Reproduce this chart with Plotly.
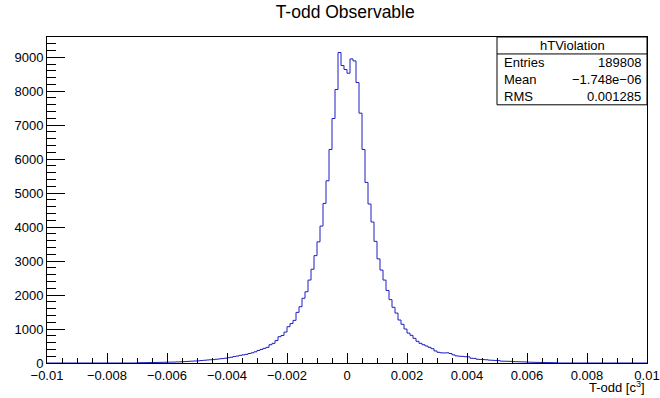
import numpy as np
import plotly.graph_objects as go

# ---- data ----
x_min, x_max, n_bins = -0.01, 0.01, 200
first_nonzero_bin = 30   # bin index (0-based) of x = -0.007
counts_nonzero = [
    8, 10, 10, 12, 14, 15, 16, 18, 20, 22, 24, 26, 28, 32, 35,
    40, 45, 50, 55, 60,
    65, 72, 80, 88, 95,
    100, 110, 120, 130, 140,
    155, 170, 190, 205, 225, 240, 255, 280, 300, 330,
    370, 400, 432, 460, 538, 579, 660, 774, 810, 910,
    1068, 1160, 1255, 1490, 1656, 1905, 2097, 2441, 2760, 3160,
    3565, 4030, 4697, 5362, 6285, 7196, 8050, 9138, 8755, 8638,
    8529, 8950, 8891, 8255, 7353, 6285, 5315, 4680, 4150, 3580,
    3065, 2735, 2441, 2135, 1865, 1640, 1470, 1265, 1140, 1000,
    880, 815, 726, 638, 579, 538, 500, 462, 421, 355, 315,
    300, 295, 300, 280, 240, 210, 200, 195, 185, 180,
    140, 135, 110, 105, 100, 95, 85, 80, 75, 70,
    55, 52, 50, 48, 40, 38, 35, 33, 30, 25,
    22, 20, 18, 16, 14, 13, 12, 10, 9,
]
x_tick_vals = [-0.01, -0.008, -0.006, -0.004, -0.002, 0, 0.002, 0.004, 0.006, 0.008, 0.01]
x_tick_text = ["\u22120.01", "\u22120.008", "\u22120.006", "\u22120.004", "\u22120.002", "0",
               "0.002", "0.004", "0.006", "0.008", "0.01"]
y_tick_vals = [0, 1000, 2000, 3000, 4000, 5000, 6000, 7000, 8000, 9000]
stats_title = "hTViolation"
stats_labels = ["Entries", "Mean", "RMS"]
stats_values = ["189808", "\u22121.748e\u221206", "0.001285"]

# ---- build histogram ----
counts = np.zeros(n_bins)
counts[first_nonzero_bin:first_nonzero_bin + len(counts_nonzero)] = counts_nonzero
edges = np.linspace(x_min, x_max, n_bins + 1)
xs = np.append(edges[:-1], edges[-1])
ys = np.append(counts, counts[-1])
y_top = 1.05 * counts.max()

FONT = "Liberation Sans, Arial, Helvetica, sans-serif"
FS = 13
fig = go.Figure()
fig.add_trace(go.Scatter(x=xs, y=ys, mode="lines", line=dict(color="#1f1fc4", width=1, shape="hv"),
                         hoverinfo="skip", showlegend=False))

fig.update_layout(
    width=660, height=398, autosize=False,
    margin=dict(l=47, r=13, t=37, b=35, autoexpand=False),
    paper_bgcolor="white", plot_bgcolor="white",
    font=dict(family=FONT, size=FS, color="black"),
    title=dict(text="T-odd Observable", x=0.523, xanchor="center", y=0.97, yanchor="middle",
               yref="container", font=dict(size=17.5, family=FONT, color="black")),
    showlegend=False,
)
fig.update_xaxes(range=[x_min, x_max], showgrid=False, zeroline=False, automargin=False,
                 showline=True, linecolor="black", linewidth=1, mirror=True,
                 ticks="inside", ticklen=10, tickcolor="black", tickwidth=1,
                 tickvals=x_tick_vals, ticktext=x_tick_text, tickfont=dict(size=FS),
                 minor=dict(ticks="inside", ticklen=5, dtick=0.0005, tick0=0, tickcolor="black", showgrid=False))
fig.update_yaxes(range=[0, y_top], showgrid=False, zeroline=False, automargin=False,
                 showline=True, linecolor="black", linewidth=1, mirror=True,
                 ticks="inside", ticklen=18, tickcolor="black", tickwidth=1,
                 tickvals=y_tick_vals, tickfont=dict(size=FS),
                 minor=dict(ticks="inside", ticklen=9, dtick=200, tick0=0, tickcolor="black", showgrid=False))

fig.add_annotation(text="T-odd [c<sup>3</sup>]", xref="paper", yref="paper", x=1.0, y=-0.075,
                   xanchor="right", yanchor="middle", showarrow=False, font=dict(size=FS))

# stats box
bx0, bx1, by0, by1 = 0.750, 1.0, 0.792, 1.0
fig.add_shape(type="rect", xref="paper", yref="paper", x0=bx0, x1=bx1, y0=by0, y1=by1,
              line=dict(color="black", width=1), fillcolor="white", layer="above")
row_h = (by1 - by0) / 4
fig.add_shape(type="line", xref="paper", yref="paper", x0=bx0, x1=bx1, y0=by1 - row_h, y1=by1 - row_h,
              line=dict(color="black", width=1))
fig.add_annotation(text=stats_title, xref="paper", yref="paper", x=(bx0 + bx1) / 2, y=by1 - row_h / 2,
                   xanchor="center", yanchor="middle", showarrow=False, font=dict(size=FS))
for i, (lab, val) in enumerate(zip(stats_labels, stats_values)):
    yy = by1 - row_h * (i + 1.5)
    fig.add_annotation(text=lab, xref="paper", yref="paper", x=bx0 + 0.008, y=yy,
                       xanchor="left", yanchor="middle", showarrow=False, font=dict(size=FS))
    fig.add_annotation(text=val, xref="paper", yref="paper", x=bx1 - 0.006, y=yy,
                       xanchor="right", yanchor="middle", showarrow=False, font=dict(size=FS))

fig.write_html("out.html", config={"displayModeBar": False, "responsive": False},
               post_script="document.body.style.margin='0';document.body.style.overflow='hidden';")
